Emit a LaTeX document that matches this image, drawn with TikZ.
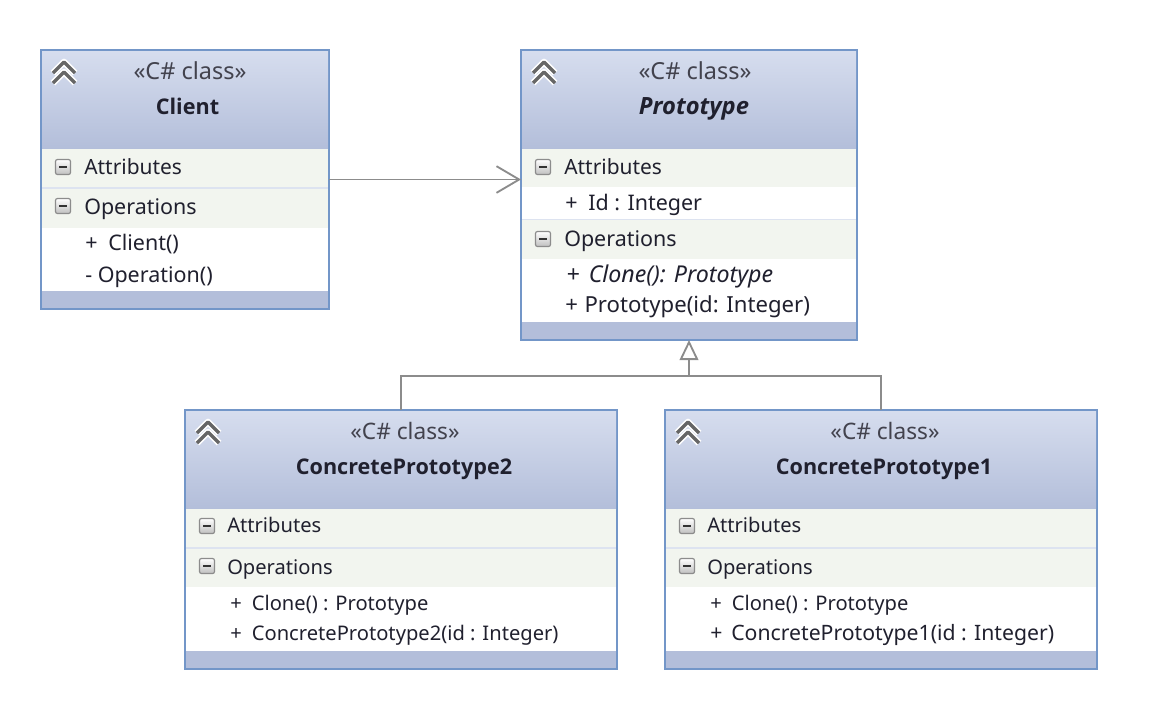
\documentclass[tikz,border=0pt]{standalone}
\usepackage{fontspec}
\setmainfont{Noto Sans}
\newfontfamily\titlefont{Open Sans}
\usetikzlibrary{arrows.meta}
\definecolor{frameblue}{HTML}{7396C8}
\definecolor{headtop}{HTML}{D6DDEE}
\definecolor{headbot}{HTML}{B3BEDA}
\definecolor{bandgray}{HTML}{F2F5EF}
\definecolor{rulegray}{HTML}{DDE3F0}
\definecolor{linkgray}{HTML}{8C8C8C}
\definecolor{inkdark}{HTML}{20202E}
\newcommand{\plus}{+\kern.5em}
\tikzset{
  classbox/.style={draw=frameblue,line width=1.5pt,fill=white,inner sep=0pt,outer sep=0pt},
  member/.style={anchor=base west,inner sep=0pt,text=inkdark,font=\fontsize{15.1}{18}\selectfont},
  topmember/.style={member,font=\fontsize{16.1}{18}\selectfont},
  stereo/.style={anchor=base,inner sep=0pt,text=inkdark!85,font=\fontsize{17}{18}\selectfont},
  topstereo/.style={stereo,font=\fontsize{17.6}{18}\selectfont},
  classname/.style={anchor=base,inner sep=0pt,text=inkdark,font=\titlefont\fontsize{16.2}{18}\selectfont\bfseries},
  assoc/.style={draw=linkgray,line width=1.4pt,-{Straight Barb[length=17,width=20,line width=1.4pt]}},
  inherit/.style={draw=linkgray,line width=1.4pt,-{Triangle[open,fill=white,length=15pt,width=14pt,line width=1.4pt]}},
  branch/.style={draw=linkgray,line width=1.4pt},
  chevrons/.pic={
    \foreach \dy in {0,10}{
      \draw[white,line width=5pt,line join=round] (-11,5+\dy-5) -- (0,-6+\dy-5) -- (11,5+\dy-5);
    }
    \foreach \dy in {0,10}{
      \draw[black!60,line width=2.6pt,line join=round] (-11,5+\dy-5) -- (0,-6+\dy-5) -- (11,5+\dy-5);
    }
  },
  minusbox/.pic={
    \draw[draw=black!45,line width=0.9pt,rounded corners=1.5pt,top color=white,bottom color=black!25] (-7.5,-7.5) rectangle (7.5,7.5);
    \draw[black!80,line width=1.5pt] (-4,0) -- (4,0);
  },
}
% frame of a class: name, centre x, centre y, width, height, y of header end
\newcommand{\classframe}[6]{
  \node[classbox,minimum width=#4*0.75pt,minimum height=#5*0.75pt] (#1) at (#2,#3) {};
  \fill[top color=headtop,bottom color=headbot] ([xshift=0.75pt,yshift=-0.75pt]#1.north west) rectangle ([xshift=-0.75pt]#1.east |- 0,#6);
  \fill[headbot] ([xshift=0.75pt,yshift=0.75pt]#1.south west) rectangle ([xshift=-0.75pt,yshift=13.5pt]#1.south east);
}
% grey compartment band: name, y top, y bottom
\newcommand{\bandfill}[3]{
  \fill[bandgray] ([xshift=0.75pt]#1.west |- 0,#2) rectangle ([xshift=-0.75pt]#1.east |- 0,#3);
}
% thin rule between compartments: name, y
\newcommand{\bandrule}[2]{
  \draw[rulegray,line width=0.8pt] ([xshift=0.75pt]#1.west |- 0,#2) -- ([xshift=-0.75pt]#1.east |- 0,#2);
}
\begin{document}
\begin{tikzpicture}[x=0.75pt,y=-0.75pt]
  \useasboundingbox (0,0) rectangle (1162,722);
  % Client
  \classframe{client}{185}{179.5}{288}{259}{149}
  \bandfill{client}{149}{187}
  \bandfill{client}{189}{228}
  \bandrule{client}{188}
  \pic at (64,73) {chevrons};
  \pic at (63,167) {minusbox};
  \pic at (63,206) {minusbox};
  \node[topstereo] (clientstereo) at (190,79) {«C\# class»};
  \node[classname] (clientname) at (187.5,114) {Client};
  \node[topmember,font=\fontsize{15.7}{18}\selectfont] (clientattr) at (84,174) {Attributes};
  \node[topmember] (clientops) at (84,214) {Operations};
  \node[topmember] (clientctor) at (85,250) {\plus Client()};
  \node[topmember] (clientop) at (85,282) {- Operation()};
  % Prototype
  \classframe{proto}{689}{195}{336}{290}{149}
  \bandfill{proto}{149}{187}
  \bandfill{proto}{220}{259}
  \bandrule{proto}{219.5}
  \pic at (544,73) {chevrons};
  \pic at (543,167) {minusbox};
  \pic at (543,239) {minusbox};
  \node[topstereo] (protostereo) at (695,79) {«C\# class»};
  \node[classname,font=\titlefont\fontsize{17.8}{18}\selectfont\bfseries\itshape] (protoname) at (694,114) {Prototype};
  \node[topmember,font=\fontsize{15.7}{18}\selectfont] (protoattr) at (564,174) {Attributes};
  \node[topmember] (protoid) at (565,210) {\plus Id : Integer};
  \node[topmember] (protoops) at (564,246) {Operations};
  \node[member,font=\fontsize{17.4}{18}\selectfont\itshape] (protoclone) at (566,282) {+\kern.4em Clone(): Prototype};
  \node[topmember,font=\fontsize{16.6}{18}\selectfont] (protoctor) at (565,312) {+\kern.3em Prototype(id: Integer)};
  % ConcretePrototype2
  \classframe{concretetwo}{401}{539.5}{432}{259}{509}
  \bandfill{concretetwo}{509}{547}
  \bandfill{concretetwo}{549}{587}
  \bandrule{concretetwo}{548}
  \pic at (208,433) {chevrons};
  \pic at (207,526) {minusbox};
  \pic at (207,566) {minusbox};
  \node[stereo] (twostereo) at (405,439) {«C\# class»};
  \node[classname] (twoname) at (404,474) {ConcretePrototype2};
  \node[member] (twoattr) at (227,532) {Attributes};
  \node[member] (twoops) at (227,574) {Operations};
  \node[member] (twoclone) at (230,610) {\plus Clone() : Prototype};
  \node[member] (twoctor) at (230,640) {\plus ConcretePrototype2(id : Integer)};
  % ConcretePrototype1
  \classframe{concreteone}{881}{539.5}{432}{259}{509}
  \bandfill{concreteone}{509}{547}
  \bandfill{concreteone}{549}{587}
  \bandrule{concreteone}{548}
  \pic at (688,433) {chevrons};
  \pic at (687,526) {minusbox};
  \pic at (687,566) {minusbox};
  \node[stereo] (onestereo) at (885,439) {«C\# class»};
  \node[classname] (onename) at (884,474) {ConcretePrototype1};
  \node[member] (oneattr) at (707,532) {Attributes};
  \node[member] (oneops) at (707,574) {Operations};
  \node[member] (oneclone) at (710,610) {\plus Clone() : Prototype};
  \node[member,font=\fontsize{15.9}{18}\selectfont] (onector) at (710,640) {+\kern.42em ConcretePrototype1(id : Integer)};
  % links
  \coordinate (joint) at (proto.south |- 0,376);
  \draw[assoc] (client.east) -- (client.east -| proto.west);
  \draw[inherit] (joint) -- (proto.south);
  \draw[branch] (concretetwo.north) |- (joint);
  \draw[branch] (concreteone.north) |- (joint);
\end{tikzpicture}
\end{document}
